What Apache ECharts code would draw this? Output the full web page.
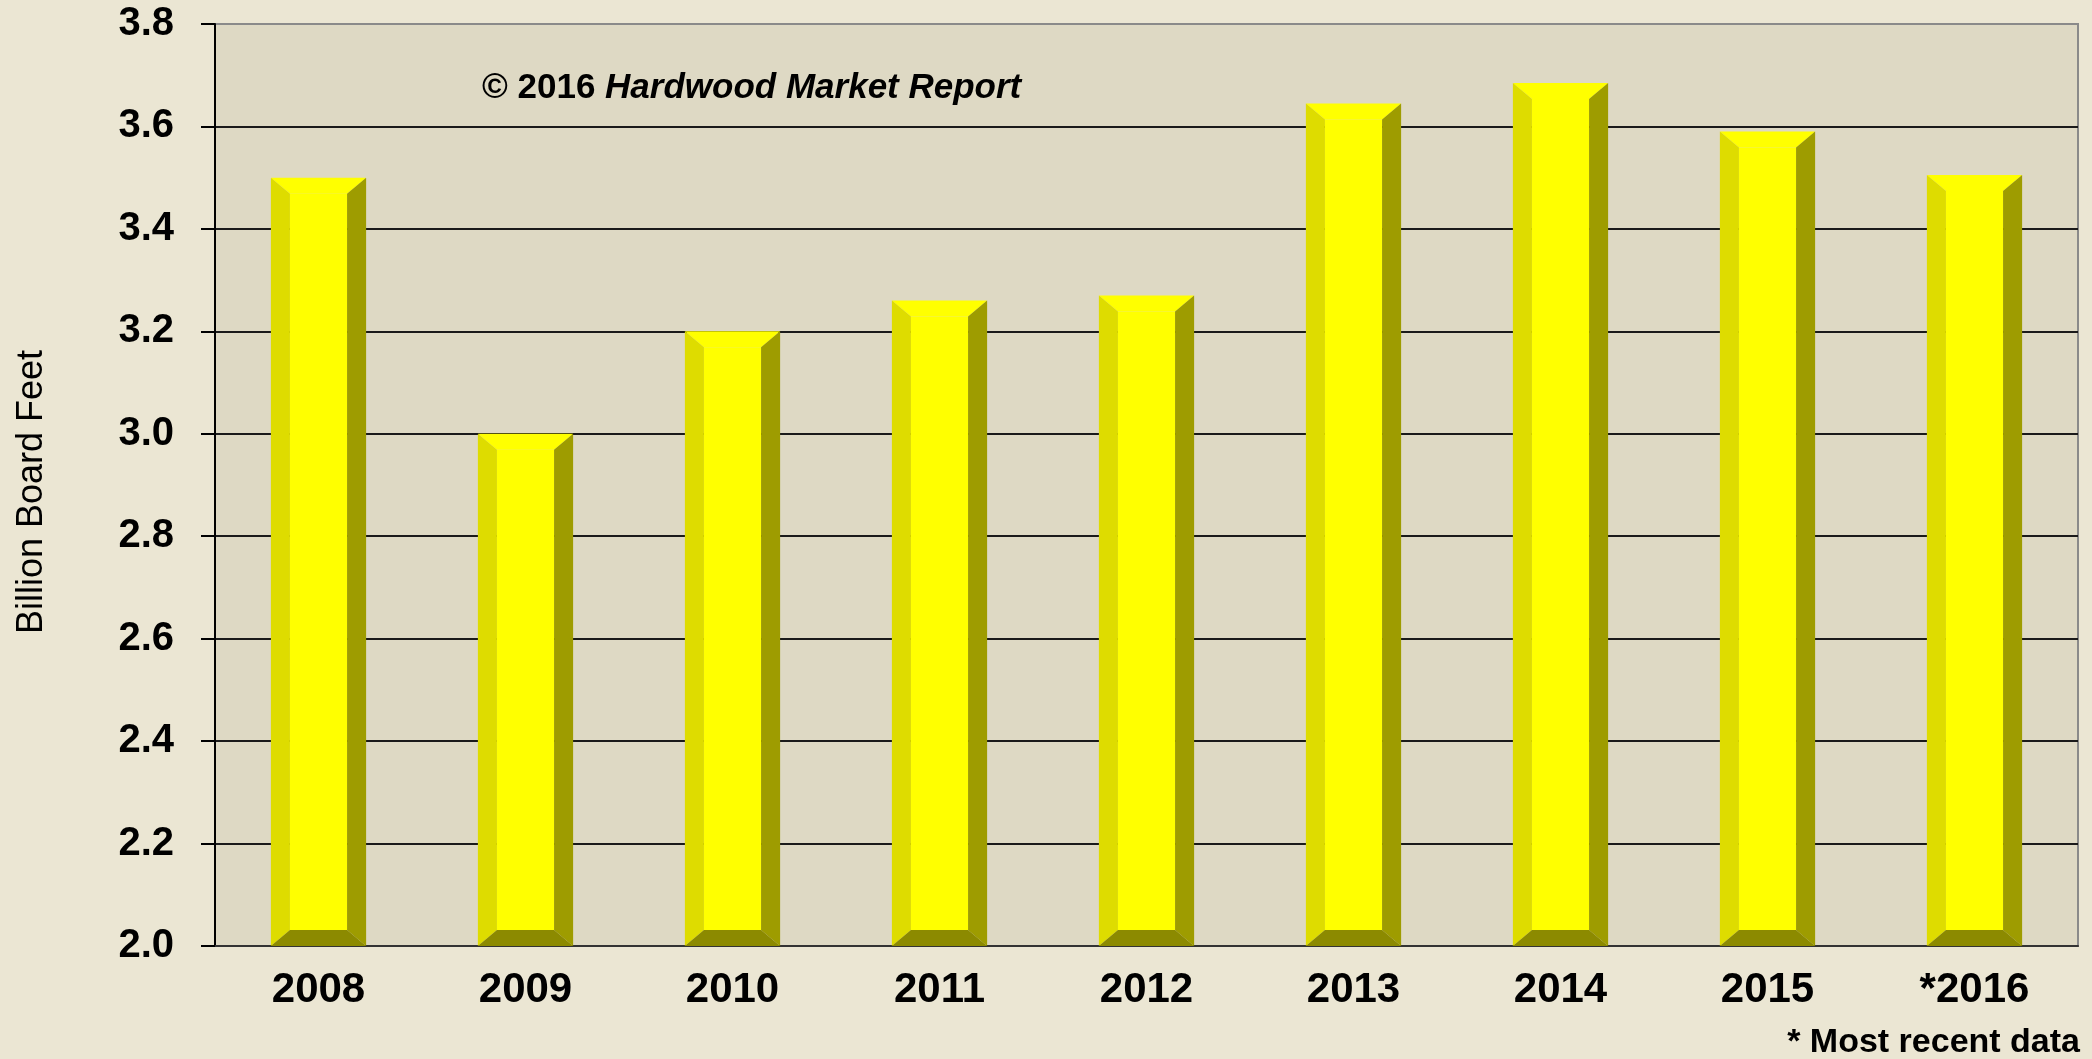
<!DOCTYPE html>
<html>
<head>
<meta charset="utf-8">
<script src="https://cdn.jsdelivr.net/npm/echarts@6/dist/echarts.min.js"></script>
<style>
  html, body { margin: 0; padding: 0; background: #ebe6d3; }
  #chart { width: 2092px; height: 1059px; }
</style>
</head>
<body>
<div id="chart"></div>
<script>
const categories = ['2008', '2009', '2010', '2011', '2012', '2013', '2014', '2015', '*2016']
const production = [3.5, 3.0, 3.2, 3.26, 3.27, 3.645, 3.685, 3.59, 3.505]
const yMin = 2.0
const yMax = 3.8
const yStep = 0.2

const font = '"Liberation Sans", Arial, sans-serif'

// bevelled bar like the excel one
const renderBar = (params, api) => {
  const top = api.coord([api.value(0), api.value(1)])
  const base = api.coord([api.value(0), yMin])
  const bw = api.size([1, 0])[0] * 0.46
  const l = top[0] - bw / 2
  const r = top[0] + bw / 2
  const t = top[1]
  const b = base[1]
  const dx = bw * 0.2
  const dy = 16
  const poly = (points, fill) => ({ type: 'polygon', shape: { points }, style: { fill } })
  return {
    type: 'group',
    children: [
      poly([[l + dx, t + dy], [r - dx, t + dy], [r - dx, b - dy], [l + dx, b - dy]], '#ffff00'),
      poly([[l, t], [r, t], [r - dx, t + dy], [l + dx, t + dy]], '#ffff00'),
      poly([[l, t], [l + dx, t + dy], [l + dx, b - dy], [l, b]], '#dedc00'),
      poly([[r, t], [r, b], [r - dx, b - dy], [r - dx, t + dy]], '#9e9c00'),
      poly([[l, b], [l + dx, b - dy], [r - dx, b - dy], [r, b]], '#8c8a00')
    ]
  }
}

const chart = echarts.init(document.getElementById('chart'))

chart.setOption({
  animation: false,
  backgroundColor: '#ebe6d3',
  grid: {
    left: 215,
    right: 14,
    top: 24,
    bottom: 113,
    show: true,
    backgroundColor: '#ded9c4',
    borderColor: '#8a8a8a',
    borderWidth: 2
  },
  xAxis: {
    type: 'category',
    data: categories,
    axisLine: { lineStyle: { color: '#333', width: 2 } },
    axisTick: { length: 11, lineStyle: { color: '#333', width: 2 } },
    axisLabel: {
      margin: 23,
      fontSize: 42,
      fontWeight: 'bold',
      fontFamily: font,
      color: '#000'
    }
  },
  yAxis: {
    type: 'value',
    min: yMin,
    max: yMax,
    interval: yStep,
    axisLine: { show: true, lineStyle: { color: '#000', width: 2 } },
    axisTick: { show: true, length: 14, lineStyle: { color: '#000', width: 2 } },
    axisLabel: {
      margin: 41,
      fontSize: 40,
      fontWeight: 'bold',
      fontFamily: font,
      color: '#000',
      formatter: v => v.toFixed(1)
    },
    splitLine: {
      show: true,
      showMinLine: false,
      showMaxLine: false,
      lineStyle: { color: '#1a1a1a', width: 2 }
    }
  },
  series: [{
    type: 'custom',
    renderItem: renderBar,
    encode: { x: 0, y: 1 },
    data: production.map((v, i) => [i, v])
  }],
  graphic: [
    {
      type: 'text',
      x: 482,
      y: 88,
      style: {
        text: '{a|© 2016 }{b|Hardwood Market Report}',
        verticalAlign: 'middle',
        rich: {
          a: { fontSize: 35, fontWeight: 'bold', fontFamily: font, fill: '#000' },
          b: { fontSize: 35, fontWeight: 'bold', fontStyle: 'italic', fontFamily: font, fill: '#000' }
        }
      }
    },
    {
      type: 'text',
      x: 32,
      y: 492,
      rotation: Math.PI / 2,
      style: {
        text: 'Billion Board Feet',
        fontSize: 36,
        fontFamily: font,
        fill: '#000',
        align: 'center',
        verticalAlign: 'middle'
      }
    },
    {
      type: 'text',
      x: 2080,
      y: 1043,
      style: {
        text: '* Most recent data',
        fontSize: 34,
        fontWeight: 'bold',
        fontFamily: font,
        fill: '#000',
        align: 'right',
        verticalAlign: 'middle'
      }
    }
  ]
})

window.addEventListener('resize', () => chart.resize())
</script>
</body>
</html>
